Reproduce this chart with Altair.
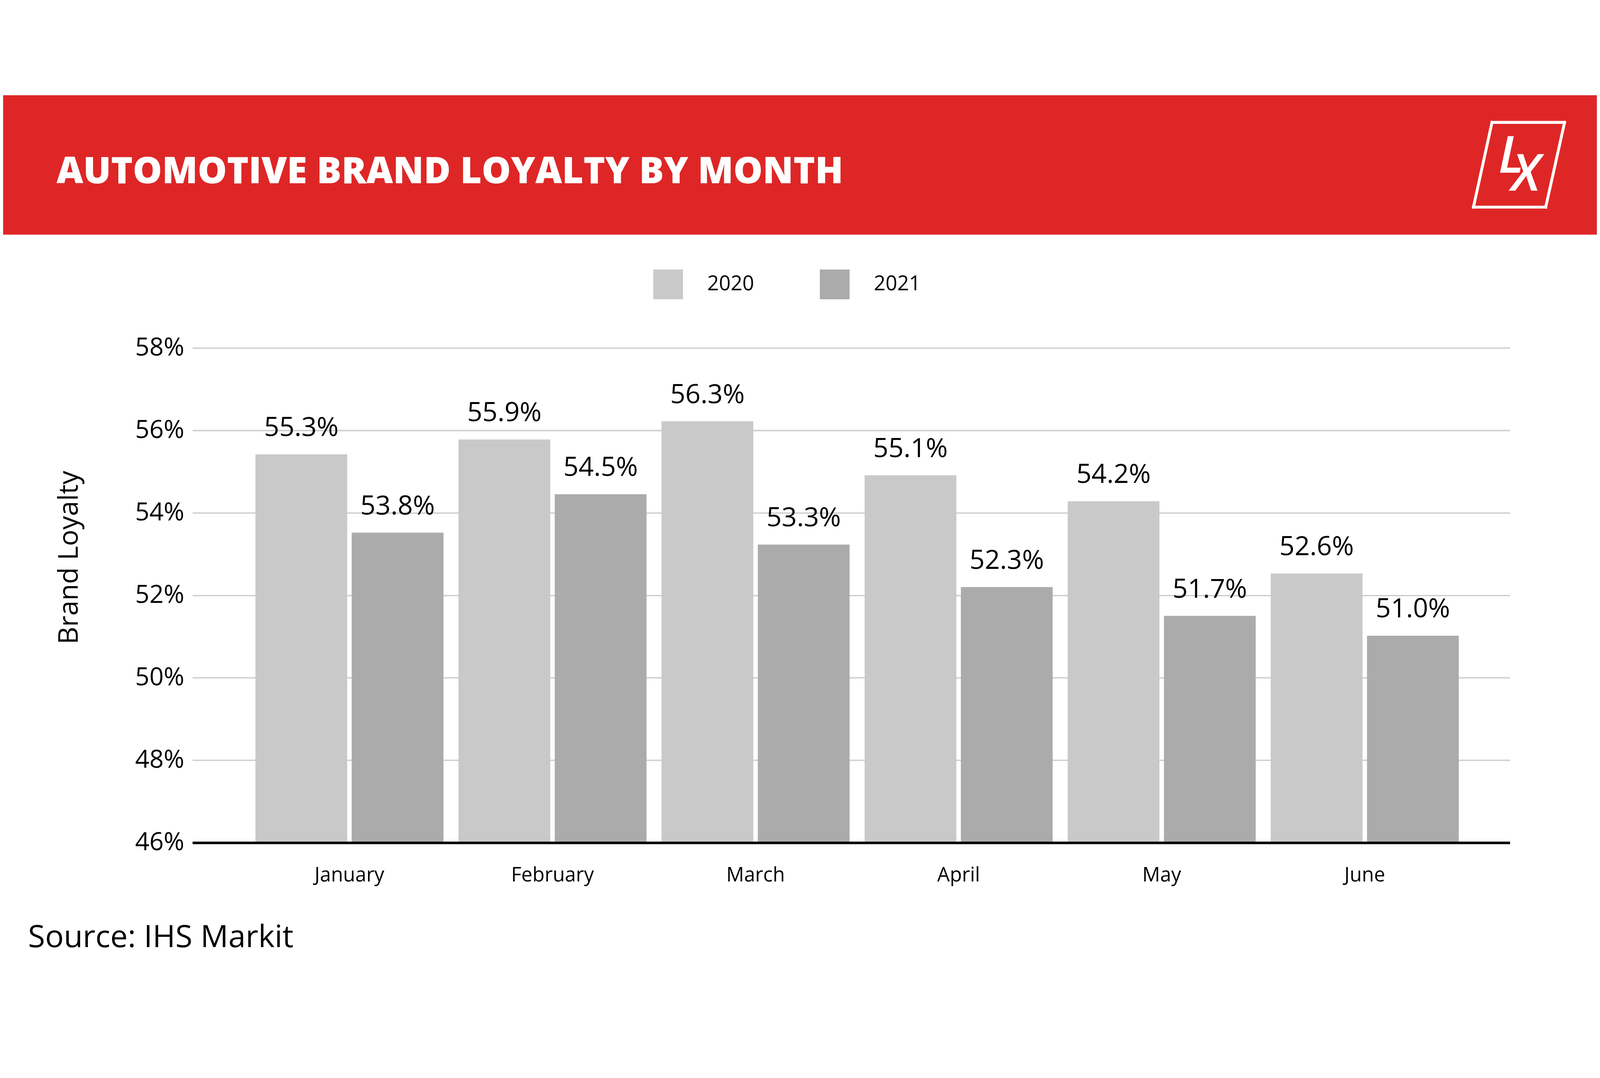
import altair as alt
import pandas as pd

# ---------------- data ----------------
months = ["January", "February", "March", "April", "May", "June"]
years = ["2020", "2021"]
loyalty_2020 = [55.42, 55.78, 56.22, 54.91, 54.28, 52.53]
loyalty_2021 = [53.52, 54.45, 53.23, 52.20, 51.50, 51.02]
labels_2020 = ["55.3%", "55.9%", "56.3%", "55.1%", "54.2%", "52.6%"]
labels_2021 = ["53.8%", "54.5%", "53.3%", "52.3%", "51.7%", "51.0%"]
y_ticks = [46, 48, 50, 52, 54, 56, 58]
title_text = "AUTOMOTIVE BRAND LOYALTY BY MONTH"
source_text = "Source: IHS Markit"
axis_title = "Brand Loyalty"

rows = []
for m, v, l in zip(months, loyalty_2020, labels_2020):
    rows.append({"month": m, "year": "2020", "value": v, "label": l})
for m, v, l in zip(months, loyalty_2021, labels_2021):
    rows.append({"month": m, "year": "2021", "value": v, "label": l})
df = pd.DataFrame(rows)
one = pd.DataFrame({"k": [0]})

FONT = "Open Sans"
RED = "#df2626"

x_enc = alt.X(
    "month:N",
    sort=months,
    scale=alt.Scale(paddingInner=0.074, paddingOuter=0.281, align=0.552),
    axis=alt.Axis(
        title=None, labelAngle=0, ticks=False, tickSize=0, grid=False,
        domainColor="#000000", domainWidth=8, labelFont=FONT,
        labelFontSize=62, labelColor="#000000", labelPadding=72, zindex=1,
        labelLimit=2000,
    ),
)
xoff_enc = alt.XOffset("year:N", sort=years,
                       scale=alt.Scale(paddingInner=0.0465, paddingOuter=0))
y_enc = alt.Y(
    "value:Q",
    scale=alt.Scale(domain=[46, 58], nice=False, zero=False),
    axis=alt.Axis(
        values=y_ticks, labelExpr="datum.value + '%'", title=axis_title,
        grid=True, gridColor="#cccccc", gridWidth=4, domain=False,
        ticks=False, tickSize=0, labelFont=FONT, labelFontSize=78,
        labelColor="#000000", labelPadding=26, titleFont=FONT,
        titleFontSize=85, titleFontWeight="normal", titleColor="#000000",
        titleX=-359, titleY=655, titleAlign="center",
        titleBaseline="alphabetic",
    ),
)

bars = alt.Chart(df).mark_bar().encode(
    x=x_enc,
    xOffset=xoff_enc,
    y=y_enc,
    y2=alt.datum(46),
    color=alt.Color(
        "year:N",
        scale=alt.Scale(domain=years, range=["#c9c9c9", "#ababab"]),
        legend=alt.Legend(
            title=None, orient="none", legendX=1441, legendY=-245,
            direction="horizontal", symbolType="square", symbolSize=8649,
            symbolStrokeWidth=0, labelFont=FONT, labelFontSize=64,
            labelColor="#000000", labelOffset=76, columnPadding=205,
            padding=0, symbolOpacity=1,
        ),
    ),
)

labels = alt.Chart(df).mark_text(
    baseline="alphabetic", dy=-57, fontSize=83, font=FONT, color="#000000"
).encode(
    x=alt.X("month:N", sort=months),
    xOffset=alt.XOffset("year:N", sort=years),
    y=alt.Y("value:Q"),
    text="label:N",
)

header = alt.Chart(one).mark_rect(color=RED).encode(
    x=alt.value(-600), x2=alt.value(4400), y=alt.value(-790), y2=alt.value(-354)
)
title = alt.Chart(one).mark_text(
    align="left", baseline="alphabetic", fontSize=115, fontWeight=800,
    font=FONT, color="white",
).encode(x=alt.value(-425), y=alt.value(-515), text=alt.value(title_text))

logo_style = dict(color="white", strokeWidth=9, strokeCap="square")
logo_top = alt.Chart(one).mark_rule(**logo_style).encode(
    x=alt.value(4064), x2=alt.value(4291), y=alt.value(-705), y2=alt.value(-705))
logo_bottom = alt.Chart(one).mark_rule(**logo_style).encode(
    x=alt.value(4006), x2=alt.value(4232), y=alt.value(-440), y2=alt.value(-440))
logo_left = alt.Chart(one).mark_rule(**logo_style).encode(
    x=alt.value(4064), x2=alt.value(4006), y=alt.value(-705), y2=alt.value(-440))
logo_right = alt.Chart(one).mark_rule(**logo_style).encode(
    x=alt.value(4291), x2=alt.value(4232), y=alt.value(-705), y2=alt.value(-440))
logo_l = alt.Chart(one).mark_text(
    align="left", baseline="alphabetic", fontSize=160, fontStyle="italic",
    fontWeight=600, font=FONT, color="white",
).encode(x=alt.value(4084), y=alt.value(-548), text=alt.value("L"))
logo_x = alt.Chart(one).mark_text(
    align="center", baseline="alphabetic", fontSize=160, fontStyle="italic",
    fontWeight=600, font=FONT, color="white",
).encode(x=alt.value(4170), y=alt.value(-492), text=alt.value("X"))

source = alt.Chart(one).mark_text(
    align="left", baseline="alphabetic", fontSize=97, font=FONT, color="#000000"
).encode(x=alt.value(-514), y=alt.value(1874), text=alt.value(source_text))

chart = alt.layer(
    header, title, logo_top, logo_bottom, logo_left, logo_right,
    logo_l, logo_x, bars, labels, source,
).properties(
    width=4120, height=1547,
    autosize=alt.AutoSizeParams(type="none"),
    padding={"left": 592, "top": 774, "right": 272, "bottom": 422},
    background="white",
).configure_view(stroke=None)

chart.save("out.html", embed_options={"renderer": "svg", "actions": False})
